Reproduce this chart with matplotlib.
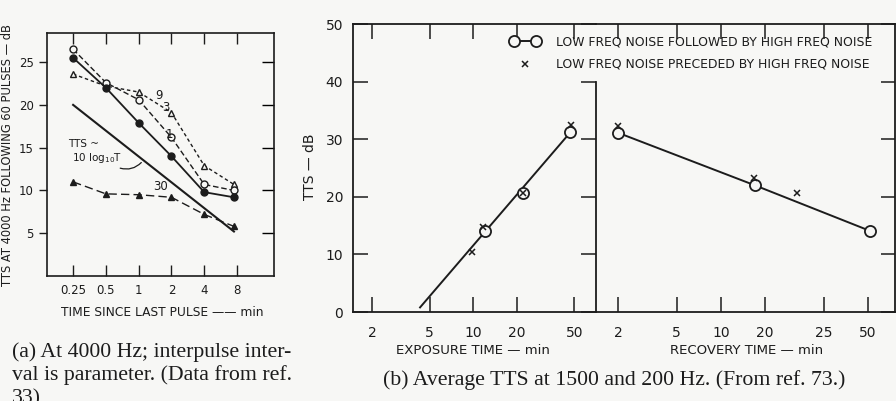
import matplotlib
matplotlib.use("Agg")
import matplotlib.pyplot as plt
from matplotlib.legend_handler import HandlerLine2D

# ---------------- data: panel (a) ----------------
times = [0.25, 0.5, 1, 2, 4, 7.5]
tts_int9 = [23.6, 22.2, 21.5, 19.1, 12.9, 10.7]     # open triangles
tts_int3 = [26.5, 22.6, 20.6, 16.2, 10.7, 10.0]     # open circles
tts_int1 = [25.5, 22.0, 17.9, 14.0, 9.8, 9.2]       # filled circles
tts_int30 = [11.0, 9.6, 9.5, 9.2, 7.2, 5.8]         # filled triangles
ref_line_t = [0.25, 7.5]
ref_line_tts = [20.0, 5.2]
a_xticks = [0.25, 0.5, 1, 2, 4, 8]
a_xticklabels = ["0.25", "0.5", "1", "2", "4", "8"]
a_yticks = [5, 10, 15, 20, 25]

# ---------------- data: panel (b) ----------------
exp_circ_t = [12.0, 22.0, 47.0]
exp_circ_tts = [14.0, 20.6, 31.2]
exp_x_t = [9.8, 11.8, 22.0, 47.5]
exp_x_tts = [10.4, 14.7, 20.6, 32.5]
exp_fit_t = [4.3, 47.0]
exp_fit_tts = [0.8, 31.2]
exp_ticks = [2, 5, 10, 20, 50]
exp_ticklabels = ["2", "5", "10", "20", "50"]

rec_circ_t = [2.0, 17.0, 103.0]
rec_circ_tts = [31.1, 22.0, 14.1]
rec_x_t = [2.0, 16.9, 33.0]
rec_x_tts = [32.3, 23.3, 20.7]
rec_ticks = [2, 5, 10, 20, 50, 100]
rec_ticklabels = ["2", "5", "10", "20", "25", "50"]
b_yticks = [0, 10, 20, 30, 40, 50]

INK = "#1c1c1c"
BG = "#f7f7f5"

plt.rcParams["font.family"] = ["DejaVu Sans"]
fig = plt.figure(figsize=(8.96, 4.01), dpi=100, facecolor=BG)

# ================= panel (a) =================
axa = fig.add_axes([0.0525, 0.3117, 0.2533, 0.606])
axa.set_facecolor(BG)
axa.set_xscale("log")
axa.set_xlim(0.144, 17.5)
axa.set_ylim(0, 28.4)
axa.plot(times, tts_int9, ls=(0, (2.5, 2)), lw=1.0, color=INK, marker="^", ms=5,
         mfc=BG, mec=INK, mew=1.0)
axa.plot(times, tts_int3, ls=(0, (4, 2)), lw=1.0, color=INK, marker="o", ms=5,
         mfc=BG, mec=INK, mew=1.0)
axa.plot(times, tts_int1, ls="-", lw=1.3, color=INK, marker="o", ms=5,
         mfc=INK, mec=INK)
axa.plot(times, tts_int30, ls=(0, (6, 3)), lw=1.0, color=INK, marker="^", ms=5,
         mfc=INK, mec=INK)
axa.plot(ref_line_t, ref_line_tts, ls="-", lw=1.5, color=INK)

axa.set_xticks(a_xticks)
axa.set_xticklabels(a_xticklabels)
axa.minorticks_off()
axa.set_yticks(a_yticks)
axa.tick_params(axis="y", which="both", direction="out", length=6, width=1.0,
                labelsize=8.5, colors=INK, right=False)
axa.tick_params(axis="x", which="both", direction="in", length=8, width=1.0,
                labelsize=8.5, colors=INK, top=True, pad=6)
axa_r = axa.secondary_yaxis("right")
axa_r.set_yticks(a_yticks)
axa_r.tick_params(direction="in", length=9, width=1.0)
axa_r.set_yticklabels([])
axa_r.spines["right"].set_visible(False)
for s in axa.spines.values():
    s.set_color(INK)
    s.set_linewidth(1.2)

axa.text(1.54, 21.1, "9", fontsize=8.5, color=INK, ha="center", va="center")
axa.text(1.76, 19.7, "3", fontsize=8.5, color=INK, ha="center", va="center")
axa.text(1.9, 16.5, "1", fontsize=8.5, color=INK, ha="center", va="center")
axa.text(1.58, 10.5, "30", fontsize=8.5, color=INK, ha="center", va="center")
axa.text(0.226, 15.4, "TTS ~", fontsize=7.5, color=INK, ha="left", va="center")
axa.text(0.245, 13.8, r"10 log$_{10}$T", fontsize=7.5, color=INK, ha="left",
         va="center")
axa.annotate("", xy=(1.1, 13.5), xytext=(0.64, 12.7),
             arrowprops=dict(arrowstyle="-", color=INK, lw=0.9,
                             connectionstyle="arc3,rad=0.35"))

axa.set_xlabel("TIME SINCE LAST PULSE —— min", fontsize=8.8, color=INK)
axa.xaxis.set_label_coords(0.507, -0.123)
axa.set_ylabel("TTS AT 4000 Hz FOLLOWING 60 PULSES — dB", fontsize=8.3,
               color=INK)
axa.yaxis.set_label_coords(-0.145, 0.5)

# ================= panel (b) =================
axl = fig.add_axes([0.394, 0.2219, 0.2712, 0.7182])
axr = fig.add_axes([0.6652, 0.2219, 0.3337, 0.7182])
for ax in (axl, axr):
    ax.set_facecolor("none")
    ax.set_xscale("log")
    ax.set_ylim(0, 50)
    for s in ax.spines.values():
        s.set_color(INK)
        s.set_linewidth(1.3)
axl.set_xlim(1.48, 70.7)
axr.set_xlim(1.41, 153)

axl.plot(exp_fit_t, exp_fit_tts, "-", lw=1.4, color=INK)
axl.plot(exp_circ_t, exp_circ_tts, ls="none", marker="o", ms=8, mfc=BG,
         mec=INK, mew=1.3)
axl.plot(exp_x_t, exp_x_tts, ls="none", marker="x", ms=5, color=INK, mew=1.1)

line_o, = axr.plot(rec_circ_t, rec_circ_tts, "-", lw=1.4, color=INK, marker="o",
                   ms=8, mfc=BG, mec=INK, mew=1.3)
line_x, = axr.plot(rec_x_t, rec_x_tts, ls="none", marker="x", ms=5, color=INK,
                   mew=1.1)

axl.set_xticks(exp_ticks)
axl.set_xticklabels(exp_ticklabels)
axr.set_xticks(rec_ticks)
axr.set_xticklabels(rec_ticklabels)
for ax in (axl, axr):
    ax.minorticks_off()
    ax.set_yticks(b_yticks)
    ax.tick_params(axis="x", direction="in", length=11, width=1.1, top=True,
                   labelsize=10, colors=INK, pad=10)
axl.tick_params(axis="y", direction="in", length=11, width=1.1, right=True,
                labelsize=10, colors=INK, pad=7)
axr.tick_params(axis="y", direction="in", length=10, width=1.1, left=False,
                right=True, labelleft=False, colors=INK)
axl.spines["right"].set_visible(False)
axr.spines["left"].set_bounds(0, 40)

axl.set_xlabel("EXPOSURE TIME — min", fontsize=9.5, color=INK)
axl.xaxis.set_label_coords(0.494, -0.112)
axr.set_xlabel("RECOVERY TIME — min", fontsize=9.5, color=INK)
axr.xaxis.set_label_coords(0.505, -0.112)
axl.set_ylabel("TTS — dB", fontsize=10, color=INK)
axl.yaxis.set_label_coords(-0.148, 0.503)

leg = axr.legend([line_o, line_x],
                 ["LOW FREQ NOISE FOLLOWED BY HIGH FREQ NOISE",
                  "LOW FREQ NOISE PRECEDED BY HIGH FREQ NOISE"],
                 handler_map={line_x: HandlerLine2D(numpoints=1)},
                 loc="upper left", bbox_to_anchor=(-0.304, 0.979),
                 frameon=False, fontsize=8.9, numpoints=2, handlelength=2.4,
                 labelspacing=0.8, handletextpad=1.3, borderaxespad=0,
                 borderpad=0.4)
for t in leg.get_texts():
    t.set_color(INK)

# ================= captions =================
cap = dict(family=["Liberation Serif", "DejaVu Serif"], fontsize=15.7, color=INK,
           ha="left", va="center")
fig.text(12 / 896, 1 - 352 / 401, "(a) At 4000 Hz; interpulse inter-", **cap)
fig.text(12 / 896, 1 - 375 / 401, "val is parameter. (Data from ref.", **cap)
fig.text(12 / 896, 1 - 399 / 401, "33)", **cap)
fig.text(383 / 896, 1 - 380 / 401,
         "(b) Average TTS at 1500 and 200 Hz. (From ref. 73.)", **cap)

fig.savefig("out.png", dpi=100, facecolor=BG)
